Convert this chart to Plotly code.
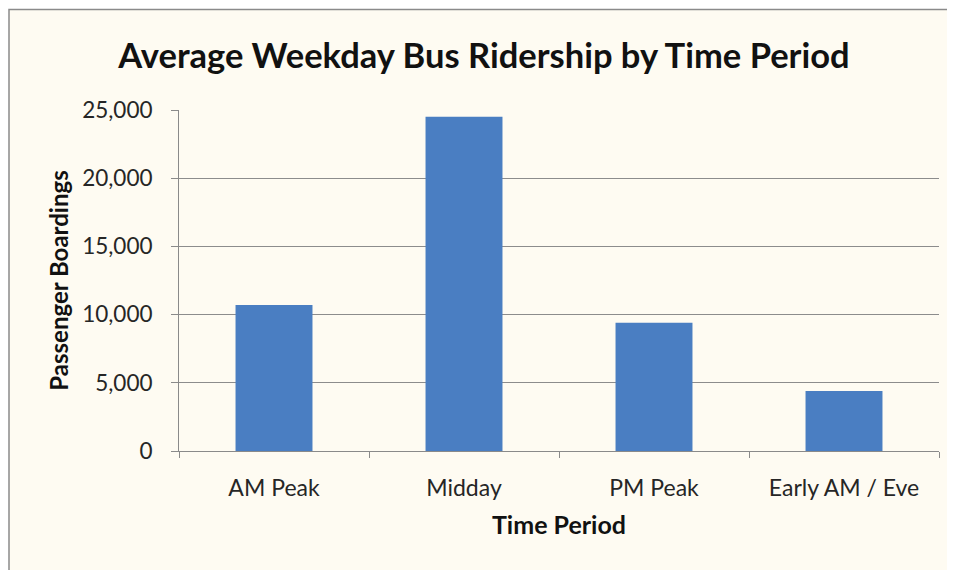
import plotly.graph_objects as go

categories = ["AM Peak", "Midday", "PM Peak", "Early AM / Eve"]
boardings = [10700, 24500, 9400, 4400]
y_ticks = [0, 5000, 10000, 15000, 20000, 25000]
y_tick_labels = ["0", "5,000", "10,000", "15,000", "20,000", "25,000"]

# page body has an 8px margin, so the figure is drawn at (8, 8)
OFF = 8
W, H = 955 - OFF, 570 - OFF
L, R, T, B = 179 - OFF, 16, 110 - OFF, 119
pw, ph = W - L - R, H - T - B

def px_x(p):
    return (p - OFF - L) / pw

def px_y(p):
    return (H - B - (p - OFF)) / ph

cream = "#FEFBF2"
font = "Lato"

fig = go.Figure(go.Bar(
    x=categories, y=boardings, width=0.405,
    marker=dict(color="#4A7EC2", line=dict(width=0)),
))

fig.add_shape(type="rect", xref="paper", yref="paper",
              x0=px_x(9), x1=px_x(990), y0=px_y(9.5), y1=px_y(620),
              fillcolor=cream, line=dict(color="#8a8a8a", width=1.5), layer="below")

fig.update_layout(
    width=W, height=H,
    margin=dict(l=L, r=R, t=T, b=B),
    paper_bgcolor="#FFFFFF", plot_bgcolor="rgba(0,0,0,0)",
    showlegend=False,
    title=dict(text="<b>Average Weekday Bus Ridership by Time Period</b>",
               xref="container", yref="container",
               x=(484 - OFF) / W, xanchor="center",
               y=1 - (56 - OFF) / H, yanchor="middle",
               font=dict(family=font, size=34.5, color="#111111")),
    font=dict(family=font, color="#222222"),
)

fig.update_xaxes(
    showgrid=False, showline=True, linecolor="#8a8a8a", linewidth=1,
    ticks="outside", tickson="boundaries", ticklen=6, tickcolor="#8a8a8a",
    ticklabelstandoff=16,
    tickfont=dict(size=23, color="#262626"),
    title=dict(text="<b>Time Period</b>", font=dict(size=25, color="#111111"), standoff=16),
)
fig.update_yaxes(
    range=[0, 25000], tickvals=y_ticks, ticktext=y_tick_labels,
    showgrid=True, gridcolor="#8c8c8c", gridwidth=1,
    showline=True, linecolor="#8a8a8a", linewidth=1,
    ticks="outside", ticklen=7, tickcolor="#8a8a8a",
    ticklabelstandoff=14,
    tickfont=dict(size=22.5, color="#262626"),
    title=dict(text="<b>Passenger Boardings</b>", font=dict(size=24, color="#111111"), standoff=6),
    zeroline=False,
)

fig.write_html("out.html")
